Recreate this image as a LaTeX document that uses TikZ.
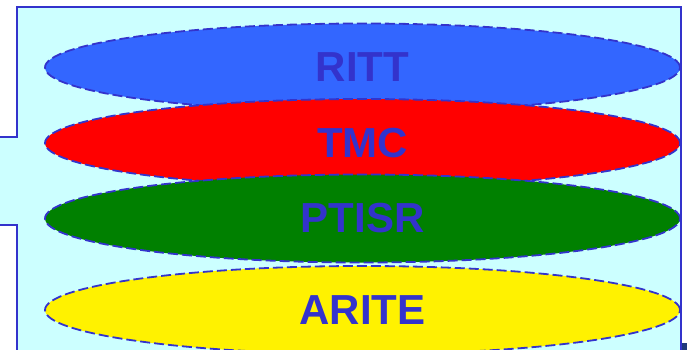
\documentclass[tikz,border=0pt]{standalone}
\usepackage{fontspec}
\setmainfont{Liberation Sans}
\usetikzlibrary{shapes.geometric}
\definecolor{panelcyan}{HTML}{CCFFFF}
\definecolor{edgeblue}{HTML}{3333CC}
\definecolor{ringblue}{HTML}{3366FF}
\definecolor{ringgreen}{HTML}{008000}
\definecolor{cornernavy}{HTML}{1F3A7A}
\tikzset{
	layer/.style={ellipse, draw=edgeblue, line width=1.8pt, dash pattern=on 10pt off 4pt,
		minimum width=635pt, minimum height=88pt, inner sep=0pt,
		text=edgeblue, font=\fontsize{42}{48}\selectfont\bfseries},
}

\begin{document}
\begin{tikzpicture}[x=1pt, y=-1pt]
		%%%%% START %%%%%
		\useasboundingbox (0, 0) rectangle (687, 350);
		
		% panel with the tab on the left
		\fill[panelcyan] (681, 352) -- (681, 7) -- (17, 7) -- (17, 137) -- (-2, 137)
			-- (-2, 225) -- (17, 225) -- (17, 352) -- cycle;
		\draw[edgeblue, line width=2pt] (-2, 137) -- (17, 137) -- (17, 7) -- (681, 7) -- (681, 352);
		\draw[edgeblue, line width=2pt] (-2, 225) -- (17, 225) -- (17, 352);
		\fill[cornernavy] (682, 343) rectangle (688, 351);
		
		% the four layers, from top to bottom
		\node[layer, fill=ringblue] (ritt) at (362.5, 67.5) {RITT};
		\node[layer, fill=red] (tmc) at (362.5, 143) {TMC};
		\node[layer, fill=ringgreen] (ptisr) at (362.5, 218.5) {PTISR};
		\node[layer, fill=yellow] (arite) at (362.5, 310) {ARITE};
		
		%%%%% END %%%%%
	\end{tikzpicture}
\end{document}
